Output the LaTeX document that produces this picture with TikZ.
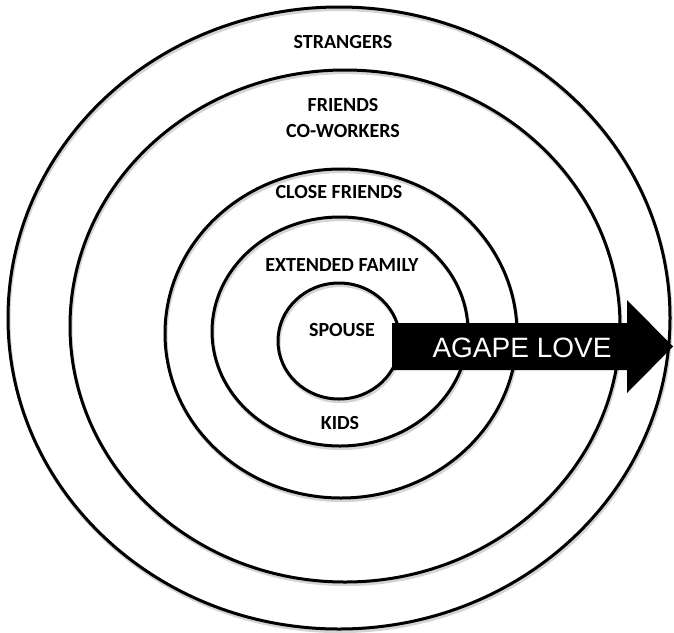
\documentclass[tikz,border=0pt]{standalone}
\usepackage{fontspec}
\setmainfont{Carlito}
\newfontfamily\arrowfont{Liberation Sans}
\usepackage{tikz}
\usetikzlibrary{positioning}
\definecolor{ringShadow}{HTML}{B8B8B8}

\begin{document}
\begin{tikzpicture}[
  x=0.5pt, y=-0.5pt,
  font=\fontsize{10}{12}\selectfont\bfseries,
  ring/.style={draw=black, line width=1.5pt},
  shade/.style={draw=ringShadow, line width=1.6pt, opacity=0.6},
  circlelabel/.style={inner sep=1pt, align=center},
  lovetext/.style={text=white, font=\arrowfont\fontsize{14}{16}\selectfont, inner sep=0pt}
]
\useasboundingbox (0,0) rectangle (674,632);
% rings, outside in (soft shadow first)
\foreach \cx/\cy/\rx/\ry in {339/318/331/311, 345/326/275/256, 341/333.5/176/164.5,
                             340/331.5/128/114.5, 339/341/61/58} {
  \draw[shade] (\cx+1,\cy+2.5) ellipse [x radius=\rx, y radius=\ry];
  \draw[ring] (\cx,\cy) ellipse [x radius=\rx, y radius=\ry];
}
\node[circlelabel] (strangers) at (343,42) {STRANGERS};
\node[circlelabel] (friends) at (343,118) {FRIENDS\\[1pt]CO-WORKERS};
\node[circlelabel] (close) at (339,192) {CLOSE FRIENDS};
\node[circlelabel] (extended) at (342,265) {EXTENDED FAMILY};
\node[circlelabel] (spouse) at (342,330) {SPOUSE};
\node[circlelabel] (kids) at (340,423) {KIDS};
% the arrow
\fill[black] (392,323) -- (627,323) -- (627,300) -- (673,346.5) -- (627,393)
  -- (627,370) -- (392,370) -- cycle;
\node[lovetext] (agape) at (522,348) {AGAPE LOVE};
\end{tikzpicture}
\end{document}
